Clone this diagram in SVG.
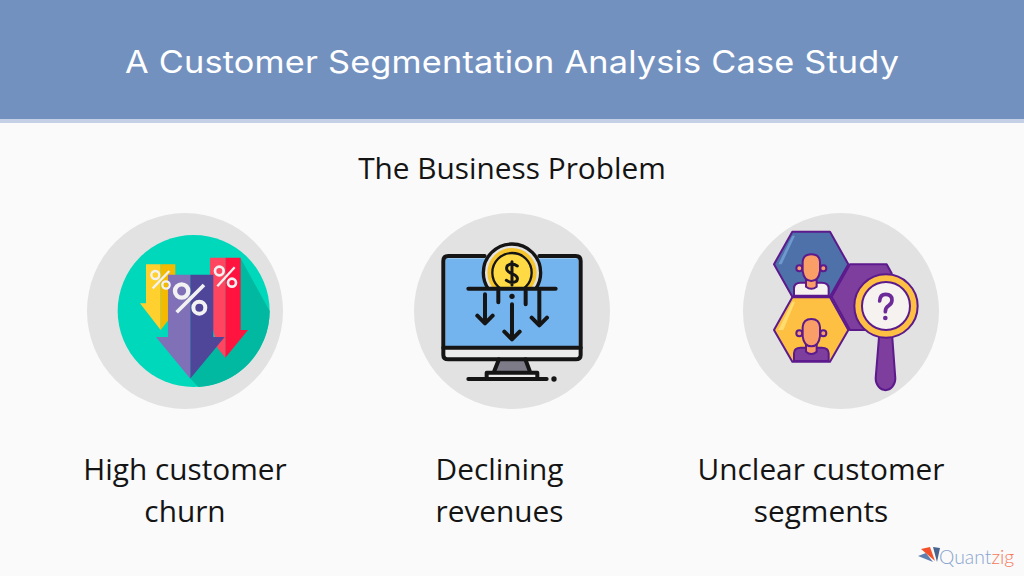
<svg xmlns="http://www.w3.org/2000/svg" width="1024" height="576" viewBox="0 0 1024 576">
<style>
text{font-family:"Open Sans","Noto Sans",sans-serif}
.t{fill:#141414;font-size:29.8px;text-anchor:middle}
.bg{fill:#e2e2e2}
.k{fill:none;stroke:#151515;stroke-width:12;stroke-linecap:round;stroke-linejoin:round}
.p{stroke:#5c1a8c;stroke-width:6;stroke-linejoin:round}
</style>
<defs><clipPath id="coin"><rect x="200" y="100" width="220" height="150"/></clipPath></defs>
<rect width="1024" height="576" fill="#fafafa"/>
<g id="header">
<rect width="1024" height="120" fill="#7391bf"/>
<rect y="119" width="1024" height="4" fill="#c5d0e6"/>
<text transform="translate(512 73) scale(1.125 1)" font-size="30.5" fill="#fff" text-anchor="middle" textLength="688" lengthAdjust="spacing" style="font-family:Inter,'Open Sans',sans-serif">A Customer Segmentation Analysis Case Study</text>
</g>
<text id="subtitle" x="512" y="179" class="t">The Business Problem</text>
<g id="node-churn">
<circle class="bg" cx="185" cy="311" r="98"/>
<g transform="translate(80 205) scale(.3333)">
<circle cx="341" cy="318" r="228" fill="#00d8bb"/>
<path d="M482 160L569 318A228 228 0 0 1 355 546L332 521 430 395 400 310Z" fill="#00b9a0"/>
<path d="M198 178H242V375L180 295H198Z" fill="#ffd02e"/>
<path d="M242 178H286V210L290 295H305L242 375Z" fill="#f4ba00"/>
<path d="M436 158H482V375H504L436 458Z" fill="#ff1440"/>
<path d="M390 158H436V458L412 428 400 376H390Z" fill="#ff4560"/>
<path d="M264 209H331V521L228 396H264Z" fill="#7f70b8"/>
<path d="M331 209H400V396H434L331 521Z" fill="#4f4699"/>
<g fill="none" stroke="#f2f2f2">
<circle cx="305" cy="258" r="20" stroke-width="13"/><circle cx="358" cy="308" r="18" stroke-width="12"/><path d="M372 240L290 322" stroke-width="11"/>
<circle cx="226" cy="210" r="12" stroke-width="7"/><circle cx="258" cy="240" r="11" stroke-width="7"/><path d="M268 198L218 250" stroke-width="7"/>
<circle cx="418" cy="198" r="13" stroke-width="8"/><circle cx="456" cy="233" r="12" stroke-width="8"/><path d="M464 187L412 244" stroke-width="7"/>
</g>
</g>
</g>
<g id="node-revenue">
<circle class="bg" cx="512" cy="311" r="98"/>
<g transform="translate(410 205) scale(.3333)">
<rect x="100" y="153" width="412" height="310" rx="14" fill="#ececec"/>
<rect x="106" y="160" width="400" height="266" fill="#74b4ee"/>
<path d="M267 463H346L360 502H252Z" fill="#7d7b88"/>
<rect x="232" y="503" width="150" height="18" fill="#ececec"/>
<g clip-path="url(#coin)">
<circle cx="306" cy="203" r="86" fill="#e2e2e2" stroke="#151515" stroke-width="10"/>
<circle cx="306" cy="203" r="74" fill="#f7c52c"/>
<circle cx="306" cy="203" r="59" fill="#ffda45" stroke="#151515" stroke-width="7"/>
</g>
<g class="k">
<path d="M224 153H115Q100 153 100 168V450Q100 463 115 463H497Q512 463 512 450V168Q512 153 497 153H388"/>
<path d="M100 428H512"/>
<path d="M175 251H437"/>
<path d="M265 258V292M347 258V298M306 298V400M225 268V352M388 258V358"/>
<path d="M202 332L225 355 248 332M283 380L306 403 329 380M365 338L388 361 411 338"/>
<path d="M267 463L252 500M346 463L360 500M230 520V503H382V520M175 522H410"/>
<path d="M322 183Q306 172 292 182Q284 198 306 206Q328 214 320 228Q306 238 289 226M306 170V240" stroke-width="9"/>
</g>
<circle cx="306" cy="274" r="8" fill="#151515"/>
<circle cx="432" cy="522" r="8" fill="#151515"/>
</g>
</g>
<g id="node-segments">
<circle class="bg" cx="841" cy="311" r="98"/>
<g transform="translate(740 205) scale(.3333)">
<path class="p" d="M275 275L330 178H440L455 205 420 375H330Z" fill="#7d3e9e"/>
<path class="p" d="M157 80H270L325 178 270 275H157L102 178Z" fill="#4e71a9"/>
<path d="M157 92L115 178 125 178 165 92Z" fill="#6f9ad0"/>
<path class="p" d="M157 277H270L325 375 270 470H157L102 375Z" fill="#fdc042"/>
<path d="M157 290L115 375 130 375 165 290Z" fill="#ffdc6e"/>
<path class="p" d="M162 272V250Q162 233 182 233H245Q266 233 266 250V272Z" fill="#f5f2f0"/>
<path class="p" d="M162 468V445Q162 428 182 428H245Q266 428 266 445V468Z" fill="#7d3e9e"/>
<g class="p" fill="#fa9e68">
<path d="M198 225H230V245Q214 258 198 245Z"/>
<path d="M198 420H230V440Q214 454 198 440Z"/>
<circle cx="178" cy="190" r="9"/><circle cx="250" cy="190" r="9"/>
<circle cx="178" cy="385" r="9"/><circle cx="250" cy="385" r="9"/>
<path d="M188 170Q190 148 214 148Q238 148 240 170V198Q236 228 214 228Q192 228 188 198Z"/>
<path d="M188 366Q190 342 214 342Q238 342 240 366V394Q236 424 214 424Q192 424 188 394Z"/>
</g>
<path class="p" d="M418 385H456L466 520A29 35 0 1 1 407 520Z" fill="#7d3e9e"/>
<circle class="p" cx="438" cy="303" r="95" fill="#fdc042"/>
<circle class="p" cx="438" cy="303" r="72" fill="#f5f2f0"/>
<path d="M419 288Q420 268 437 268Q456 268 456 285Q456 296 446 302Q436 308 436 320" fill="none" stroke="#6c2a98" stroke-width="11" stroke-linecap="round"/>
<circle cx="436" cy="339" r="7" fill="#6c2a98"/>
</g>
</g>
<g id="label-churn"><text class="t" x="185" y="480">High customer</text><text class="t" x="185" y="522">churn</text></g>
<g id="label-revenue"><text class="t" x="499.5" y="480">Declining</text><text class="t" x="499.5" y="522">revenues</text></g>
<g id="label-segments"><text class="t" x="821" y="480">Unclear customer</text><text class="t" x="821" y="522">segments</text></g>
<g id="logo">
<path d="M918 556L926 553 933 562Z" fill="#5f7fb0"/><path d="M921 549L930 547 935 561Z" fill="#f2512c"/><path d="M933 547L940 548 937 562Z" fill="#47648f"/>
<text x="939" y="564" font-size="19.4" font-weight="300" style="font-family:Lato,Roboto,sans-serif" fill="#8aa5cf">Quant<tspan fill="#f4795b">zig</tspan></text>
</g>
</svg>
